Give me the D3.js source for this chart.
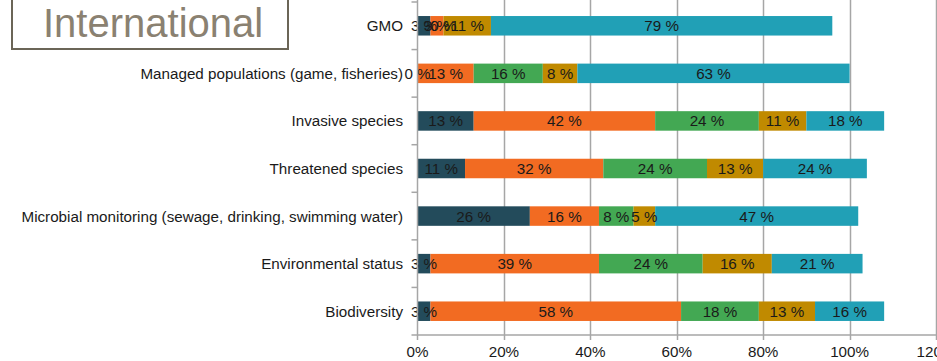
<!DOCTYPE html>
<html><head><meta charset="utf-8">
<script src="https://cdn.jsdelivr.net/npm/d3@7"></script>
<style>body{margin:0;background:#fff}svg{display:block}</style>
</head><body>
<svg id="c" width="937" height="361"></svg>
<script>
const categories = ["GMO","Managed populations (game, fisheries)","Invasive species","Threatened species","Microbial monitoring (sewage, drinking, swimming water)","Environmental status","Biodiversity"];
const seriesNames = ["s1","s2","s3","s4","s5"];
const s1 = [3, 0, 13, 11, 26, 3, 3];
const s2 = [3, 13, 42, 32, 16, 39, 58];
const s3 = [0, 16, 24, 24, 8, 24, 18];
const s4 = [11, 8, 11, 13, 5, 16, 13];
const s5 = [79, 63, 18, 24, 47, 21, 16];
const colors = ["#234b5b","#f26b22","#43a853","#c08a00","#21a0b6"];
const xTicks = [0, 0.2, 0.4, 0.6, 0.8, 1.0, 1.2];
const title = "International";

const series = [s1,s2,s3,s4,s5];
const svg = d3.select("#c");
const x = d3.scaleLinear().domain([0,1.2]).range([417.5, 936]);
const y = d3.scaleBand().domain(categories).range([2, 335]).paddingInner(0.59).paddingOuter(0.295);
const font = "'Liberation Sans', Arial, sans-serif";
const fs = 15.2;

// gridlines
svg.append("g").selectAll("line").data(xTicks.slice(1)).join("line")
  .attr("x1", d=>Math.round(x(d))+0.5).attr("x2", d=>Math.round(x(d))+0.5)
  .attr("y1", 0).attr("y2", 340).attr("stroke", "#a6a6a6").attr("stroke-width", 1.5);

// bars
const rows = categories.map((c,i)=>{let acc=0; return series.map((s,k)=>{const v=s[i]; const o={c,k,v,x0:acc/100,x1:(acc+v)/100}; acc+=v; return o;});});
const g = svg.append("g");
rows.forEach(r=>{
  g.selectAll(null).data(r).join("rect")
    .attr("x", d=>x(d.x0)).attr("width", d=>x(d.x1)-x(d.x0))
    .attr("y", d=>y(d.c)).attr("height", y.bandwidth())
    .attr("fill", d=>colors[d.k]);
});
rows.forEach(r=>{
  g.selectAll(null).data(r).join("text")
    .attr("x", d=>(x(d.x0)+x(d.x1))/2).attr("y", d=>y(d.c)+y.bandwidth()/2)
    .attr("dy","0.36em").attr("text-anchor","middle")
    .attr("font-family", font).attr("font-size", fs).attr("fill", "#1a1a1a")
    .text(d=>d.v+" %");
});

// axes lines
const ax = svg.append("g").attr("stroke","#a6a6a6").attr("stroke-width",1.5);
ax.append("line").attr("x1", x(0)).attr("x2", x(0)).attr("y1", 0).attr("y2", 335);
ax.append("line").attr("x1", x(0)-6).attr("x2", 937).attr("y1", 335).attr("y2", 335);
const bounds = categories.map(c=>y(c)-y.step()*y.paddingInner()/2);
ax.selectAll(null).data(bounds).join("line")
  .attr("x1", x(0)-6).attr("x2", x(0)).attr("y1", d=>d).attr("y2", d=>d);
ax.append("line").attr("x1", x(0)).attr("x2", x(0)).attr("y1", 335).attr("y2", 340);

// category labels
svg.append("g").selectAll("text").data(categories).join("text")
  .attr("x", 403).attr("y", d=>y(d)+y.bandwidth()/2).attr("dy","0.36em")
  .attr("text-anchor","end").attr("font-family", font).attr("font-size", fs).attr("fill","#1a1a1a")
  .text(d=>d);

// x tick labels
svg.append("g").selectAll("text").data(xTicks).join("text")
  .attr("x", d=>x(d)).attr("y", 352).attr("dy","0.36em").attr("text-anchor","middle")
  .attr("font-family", font).attr("font-size", fs).attr("fill","#1a1a1a")
  .text(d=>Math.round(d*100)+"%");

// title box
svg.append("rect").attr("x", 12).attr("y", -4).attr("width", 276).attr("height", 53)
  .attr("fill","#fff").attr("stroke","#6b6557").attr("stroke-width", 2);
svg.append("text").attr("x", 43).attr("y", 37).attr("font-family", font).attr("font-size", 40)
  .attr("fill","#8a8171").text(title);
</script>
</body></html>
